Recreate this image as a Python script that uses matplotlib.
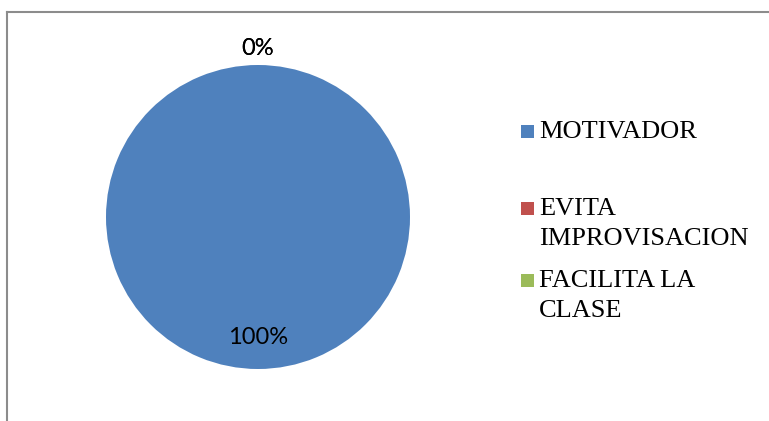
import matplotlib
matplotlib.use("Agg")
import matplotlib.pyplot as plt
from matplotlib.lines import Line2D
from matplotlib.patches import Rectangle

# data
categories = ["MOTIVADOR", "EVITA\nIMPROVISACION", "FACILITA LA\nCLASE"]
values = [100, 0, 0]
colors = ["#4F81BD", "#C0504D", "#9BBB59"]

W, H = 769, 421
fig = plt.figure(figsize=(W / 100, H / 100), dpi=100)

# chart frame (only top and left edges visible)
fig.add_artist(Line2D([7 / W, 7 / W], [0, 1 - 12 / H], transform=fig.transFigure,
                      color="#8c8c8c", lw=1.5))
fig.add_artist(Line2D([7 / W, 1], [1 - 12 / H, 1 - 12 / H], transform=fig.transFigure,
                      color="#8c8c8c", lw=1.5))

# pie axes: centre (258, 217) px, radius 152 px
cx, cy, r = 258, 217, 152
ax = fig.add_axes([(cx - r) / W, (H - cy - r) / H, 2 * r / W, 2 * r / H])
wedges, texts, autotexts = ax.pie(values, colors=colors, startangle=90, counterclock=False,
                                  autopct="%1.0f%%", pctdistance=0.79,
                                  wedgeprops=dict(linewidth=0),
                                  textprops=dict(family="Lato", fontsize=17, color="black"))
for v, t in zip(values, autotexts):
    if v == 0:
        x, y = t.get_position()
        t.set_position((x / 0.79 * 1.11, y / 0.79 * 1.11))
ax.set_xlim(-1, 1)
ax.set_ylim(-1, 1)
ax.set_aspect("auto")
ax.axis("off")

# legend, drawn by hand to follow the original spacing (first-line baselines in px)
legend_y = [138, 215, 287]
line_gap = 30
for lab, col, y in zip(categories, colors, legend_y):
    fig.add_artist(Rectangle((521 / W, 1 - y / H), 13 / W, 13 / H,
                             transform=fig.transFigure, color=col, lw=0))
    for i, line in enumerate(lab.split("\n")):
        fig.text(539 / W, 1 - (y + i * line_gap) / H, line, family="Liberation Serif",
                 fontsize=19, va="baseline", ha="left")

fig.savefig("out.png", dpi=100)
